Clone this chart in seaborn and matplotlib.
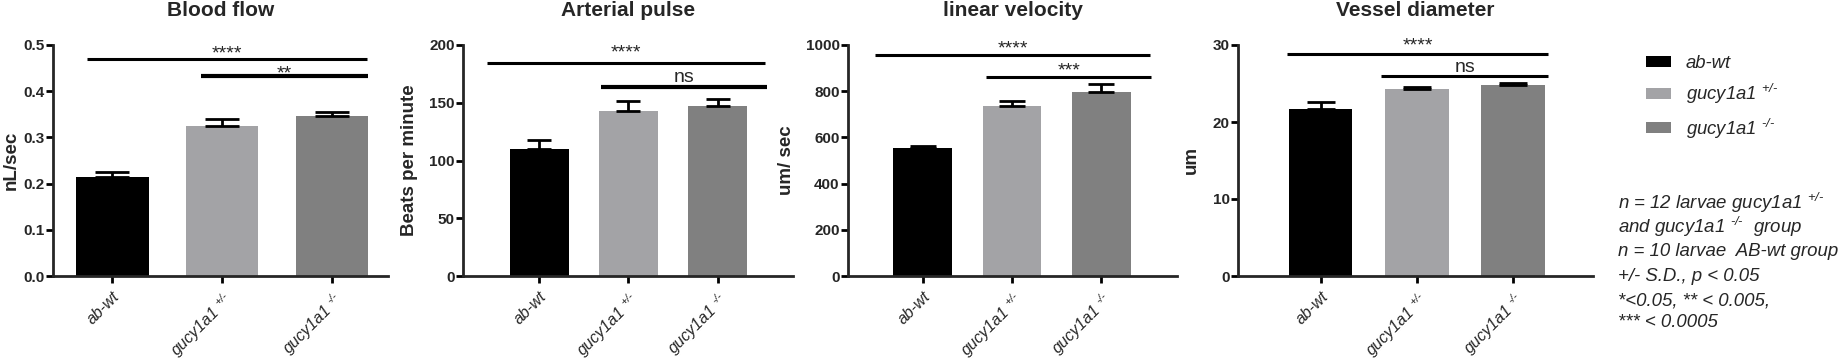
import numpy as np
import pandas as pd
import matplotlib
matplotlib.use("Agg")
import matplotlib.pyplot as plt
import matplotlib.patches as mpatches
import seaborn as sns

groups = ["ab-wt", "gucy1a1 +/-", "gucy1a1 -/-"]
tick_labels = ["ab-wt", r"gucy1a1 $^{\text{+/-}}$", r"gucy1a1 $^{\text{-/-}}$"]
colors = ["#000000", "#a3a3a6", "#808080"]

titles = ["Blood flow", "Arterial pulse", "linear velocity", "Vessel diameter"]
ylabels = ["nL/sec", "Beats per minute", "um/ sec", "um"]

blood_flow = [0.215, 0.325, 0.346]
blood_flow_sd = [0.011, 0.015, 0.008]
pulse = [110, 143, 147]
pulse_sd = [7.5, 8.6, 6.3]
velocity = [553, 735, 798]
velocity_sd = [11, 24, 33]
diameter = [21.7, 24.25, 24.8]
diameter_sd = [0.9, 0.35, 0.3]

means = [blood_flow, pulse, velocity, diameter]
sds = [blood_flow_sd, pulse_sd, velocity_sd, diameter_sd]

ylims = [(0, 0.5), (0, 200), (0, 1000), (0, 30)]
yticks = [np.arange(0, 0.51, 0.1), np.arange(0, 201, 50), np.arange(0, 1001, 200), np.arange(0, 31, 10)]
xlims = [(-0.54, 2.51), (-0.85, 2.84), (-0.84, 2.85), (-0.86, 2.83)]

# significance brackets: (y, x_start, x_end, label, linewidth, text offset px)
brackets = [
    [(0.469, -0.23, 2.32, "****", 2.2, -3), (0.432, 0.81, 2.33, "**", 3.0, -6)],
    [(184.7, -0.58, 2.53, "****", 2.2, 1), (163.4, 0.69, 2.55, "ns", 3.0, 1)],
    [(957, -0.54, 2.55, "****", 2.2, -3), (863, 0.71, 2.56, "***", 2.2, -3)],
    [(28.8, -0.35, 2.36, "****", 2.2, 0), (25.97, 0.63, 2.36, "ns", 2.2, 0)],
]

# axes placement in pixels (left, right), y-label right edge (axes fraction), cap size
positions = [(53, 388), (463, 793), (848, 1177), (1238, 1593)]
ylabel_x = [-0.10, -0.136, -0.161, -0.107]
capsizes = [12, 8.5, 9.5, 10]

sns.set_style("ticks")
plt.rcParams["font.family"] = ["Liberation Sans", "DejaVu Sans"]
plt.rcParams["mathtext.fontset"] = "custom"
plt.rcParams["mathtext.rm"] = "Liberation Sans:italic"
plt.rcParams["mathtext.it"] = "Liberation Sans:italic"
plt.rcParams["mathtext.default"] = "it"

W, H = 1843, 364
fig = plt.figure(figsize=(W / 100, H / 100), dpi=100)

px = 72 / 100  # points per pixel
for i in range(4):
    x0, x1 = positions[i]
    ax = fig.add_axes([x0 / W, 1 - 276 / H, (x1 - x0) / W, (276 - 45) / H])
    df = pd.DataFrame({"group": groups, "value": means[i]})
    sns.barplot(data=df, x="group", y="value", hue="group", palette=colors,
                order=groups, width=0.66, errorbar=None, legend=False, ax=ax,
                edgecolor="none", zorder=2)
    ax.errorbar(range(3), means[i], yerr=[[0, 0, 0], sds[i]], fmt="none",
                ecolor="black", elinewidth=2, capsize=capsizes[i], capthick=2, zorder=3)
    for (yb, xa, xb, lab, lw, off) in brackets[i]:
        ax.plot([xa, xb], [yb, yb], color="black", lw=lw, solid_capstyle="butt",
                clip_on=False)
        ax.annotate(lab, ((xa + xb) / 2, yb), xytext=(0, off * px), textcoords="offset points",
                    ha="center", va="bottom", fontsize=14)
    ax.set_xlim(*xlims[i])
    ax.set_ylim(*ylims[i])
    ax.set_yticks(yticks[i])
    if i == 0:
        ax.set_yticklabels([f"{t:.1f}" for t in yticks[i]])
    ax.set_xticks(range(3))
    ax.set_xticklabels(tick_labels, rotation=45, ha="right", rotation_mode="anchor",
                       fontstyle="italic", fontsize=11.5)
    for lbl in ax.get_yticklabels():
        lbl.set_fontweight("bold")
        lbl.set_fontsize(11)
    ax.set_xlabel("")
    ax.set_ylabel(ylabels[i], fontsize=13.5, fontweight="bold")
    ax.yaxis.set_label_coords(ylabel_x[i], 0.5)
    ax.set_title(titles[i], fontsize=15, fontweight="bold", y=1 + (45 - 11) / 231,
                 va="center", pad=0)
    sns.despine(ax=ax)
    for s in ["left", "bottom"]:
        ax.spines[s].set_linewidth(2)
    ax.tick_params(axis="both", width=2, length=5, direction="out", color="black")
    ax.tick_params(axis="x", pad=4)
    ax.tick_params(axis="y", pad=1)

handles = [mpatches.Patch(facecolor=c, edgecolor="none") for c in colors]
fs = 13.3
fpx = fs / px
fig.legend(handles, tick_labels, loc="upper left", bbox_to_anchor=(1646 / W, 1 - 55 / H),
           frameon=False, prop={"style": "italic", "size": fs}, handlelength=25 / fpx,
           handleheight=10 / fpx, labelspacing=0.55, handletextpad=15 / fpx,
           borderpad=0, borderaxespad=0)

note_lines = [r"n = 12 larvae gucy1a1 $^{\text{+/-}}$",
              r"and gucy1a1 $^{\text{-/-}}$  group",
              "n = 10 larvae  AB-wt group",
              "+/- S.D., p < 0.05",
              "*<0.05, ** < 0.005,",
              "*** < 0.0005"]
note_base = [209, 233, 256, 281, 305, 327]
for line, yb in zip(note_lines, note_base):
    fig.text(1618 / W, 1 - yb / H, line, ha="left", va="baseline", fontsize=13.4,
             fontstyle="italic")

fig.savefig("out.png", dpi=100)
